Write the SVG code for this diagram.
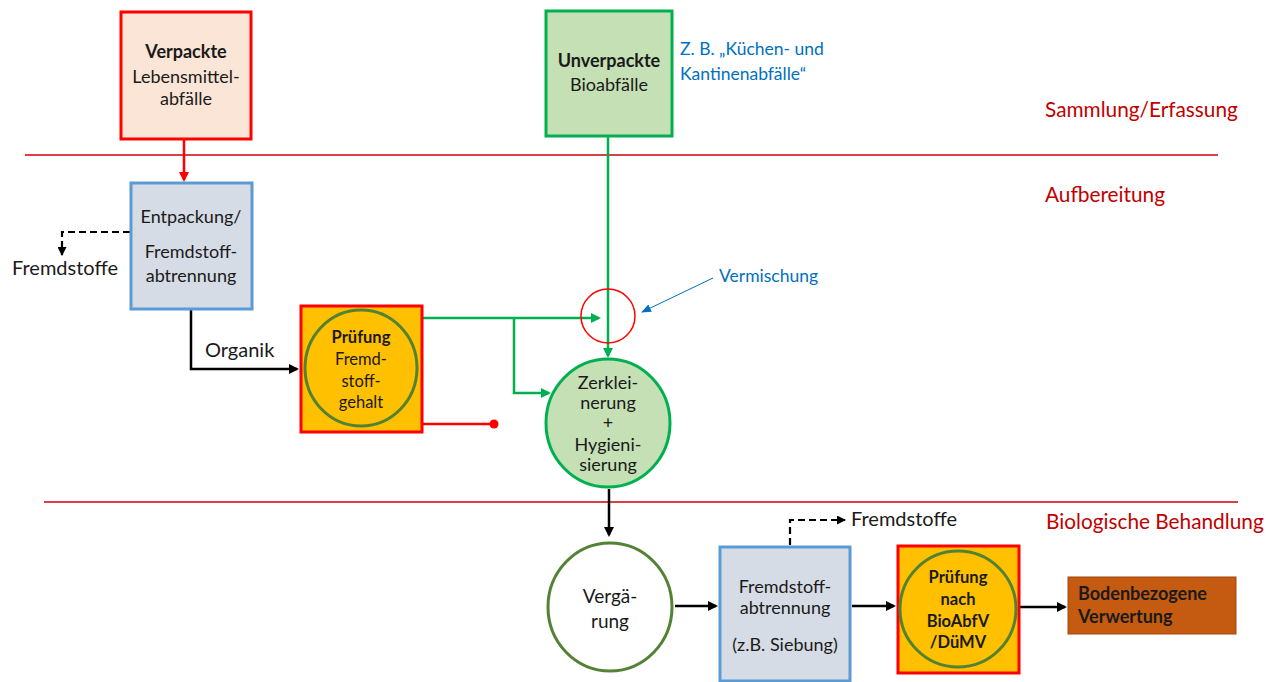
<svg xmlns="http://www.w3.org/2000/svg" width="1275" height="682" viewBox="0 0 1275 682">
<style>
text{font-family:Lato,"Liberation Sans",sans-serif;font-size:18px;fill:#1a1a1a}
.c{text-anchor:middle}
.b{font-weight:bold}
.sm{font-size:16.5px}
.lg{font-size:20px}
.sec{fill:#C00000;font-size:20.8px}
.blue{fill:#0070C0;font-size:17.5px}
.divider{stroke:#D00000;stroke-width:1.6}
.gray{fill:#D6DCE5;stroke:#5B9BD5;stroke-width:3}
.check{fill:#FFC000;stroke:#FF0000;stroke-width:3}
.chkc{fill:none;stroke:#548235;stroke-width:3}
.green{fill:#C5E0B4;stroke:#00B050;stroke-width:3}
.blk{stroke:#000;stroke-width:2.5;fill:none}
.dash{stroke:#000;stroke-width:2.2;fill:none;stroke-dasharray:7 4}
.gl{stroke:#00B050;stroke-width:2.5;fill:none}
</style>
<defs>
<marker id="ab" markerWidth="10" markerHeight="10" refX="8" refY="5" orient="auto" markerUnits="userSpaceOnUse"><path d="M0,0 L10,5 L0,10 z" fill="#000"/></marker>
<marker id="abs" markerWidth="9" markerHeight="9" refX="8" refY="4.5" orient="auto" markerUnits="userSpaceOnUse"><path d="M0,0 L9,4.5 L0,9 z" fill="#000"/></marker>
<marker id="ag" markerWidth="10" markerHeight="10" refX="8" refY="5" orient="auto" markerUnits="userSpaceOnUse"><path d="M0,0 L10,5 L0,10 z" fill="#00B050"/></marker>
<marker id="ar" markerWidth="10" markerHeight="10" refX="8" refY="5" orient="auto" markerUnits="userSpaceOnUse"><path d="M0,0 L10,5 L0,10 z" fill="#FF0000"/></marker>
<marker id="abl" markerWidth="10" markerHeight="8" refX="9" refY="4" orient="auto" markerUnits="userSpaceOnUse"><path d="M0,0 L10,4 L0,8 z" fill="#0070C0"/></marker>
</defs>

<g id="dividers">
<line class="divider" x1="25" y1="155" x2="1218" y2="155"/>
<line class="divider" x1="44" y1="502" x2="1238" y2="502"/>
</g>
<g id="section-labels">
<text class="sec" x="1045" y="117">Sammlung/Erfassung</text>
<text class="sec" x="1045" y="202">Aufbereitung</text>
<text class="sec" x="1046" y="529">Biologische Behandlung</text>
</g>

<g id="connectors">
<line x1="184" y1="140" x2="184" y2="180" stroke="#FF0000" stroke-width="2.5" marker-end="url(#ar)"/>
<line class="gl" x1="608" y1="136" x2="608" y2="356" marker-end="url(#ag)"/>
<polyline class="dash" points="130,232 62,232 62,255" marker-end="url(#abs)"/>
<polyline class="blk" points="191,309 191,369 297,369" marker-end="url(#ab)"/>
<polyline class="gl" points="422,318 599,318" marker-end="url(#ag)"/>
<polyline class="gl" points="514,318 514,393 549,393" marker-end="url(#ag)"/>
<line x1="422" y1="424" x2="494" y2="424" stroke="#FF0000" stroke-width="2.5"/>
<circle cx="494" cy="424" r="4.5" fill="#FF0000"/>
<line x1="713" y1="278" x2="642" y2="312" stroke="#0070C0" stroke-width="1" marker-end="url(#abl)"/>
<line class="blk" x1="609" y1="489" x2="609" y2="535" marker-end="url(#ab)"/>
<line class="blk" x1="675" y1="606" x2="716" y2="606" marker-end="url(#ab)"/>
<polyline class="dash" points="790,545 790,520 845,520" marker-end="url(#abs)"/>
<line class="blk" x1="852" y1="606" x2="894" y2="606" marker-end="url(#ab)"/>
<line class="blk" x1="1020" y1="607" x2="1065" y2="607" marker-end="url(#ab)"/>
</g>

<g id="verpackte">
<rect x="121" y="12" width="130" height="127" fill="#FBE5D6" stroke="#FF0000" stroke-width="3"/>
<text class="c b" x="186" y="58">Verpackte</text>
<text class="c" x="186" y="83">Lebensmittel-</text>
<text class="c" x="186" y="105">abfälle</text>
</g>

<g id="unverpackte">
<rect x="546" y="11" width="126" height="125" class="green"/>
<text class="c b" x="609" y="67">Unverpackte</text>
<text class="c" x="609" y="91">Bioabfälle</text>
</g>
<g id="beispiel">
<text class="blue" x="680" y="55">Z. B. „Küchen- und</text>
<text class="blue" x="680" y="80">Kantinenabfälle“</text>
</g>

<g id="entpackung">
<rect x="131" y="183" width="121" height="126" class="gray"/>
<text class="c" x="191" y="223">Entpackung/</text>
<text class="c" x="191" y="258">Fremdstoff-</text>
<text class="c" x="191" y="282">abtrennung</text>
</g>
<g id="fremdstoffe1"><text class="lg" x="12" y="275">Fremdstoffe</text></g>
<g id="organik"><text class="lg" x="205" y="357">Organik</text></g>

<g id="pruefung1">
<rect x="301" y="306" width="121" height="126" class="check"/>
<ellipse cx="361" cy="368" rx="56" ry="58" class="chkc"/>
<text class="c b sm" x="361" y="343">Prüfung</text>
<text class="c sm" x="361" y="365">Fremd-</text>
<text class="c sm" x="361" y="387">stoff-</text>
<text class="c sm" x="361" y="408">gehalt</text>
</g>

<g id="vermischung">
<circle cx="608" cy="316" r="27" fill="none" stroke="#FF0000" stroke-width="1.5"/>
<text class="blue" x="719" y="282">Vermischung</text>
</g>

<g id="zerkleinerung">
<ellipse cx="608" cy="423" rx="62" ry="64" class="green"/>
<text class="c" x="608" y="389">Zerklei-</text>
<text class="c" x="608" y="409">nerung</text>
<text class="c" x="608" y="429">+</text>
<text class="c" x="608" y="451">Hygieni-</text>
<text class="c" x="608" y="471">sierung</text>
</g>

<g id="vergaerung">
<ellipse cx="610" cy="607" rx="62" ry="64" fill="#FFFFFF" stroke="#548235" stroke-width="3"/>
<text class="c" x="610" y="603" style="font-size:19px">Vergä-</text>
<text class="c" x="610" y="628" style="font-size:19px">rung</text>
</g>

<g id="fremdstoffabtrennung">
<rect x="720" y="547" width="130" height="134" class="gray"/>
<text class="c" x="785" y="593">Fremdstoff-</text>
<text class="c" x="785" y="614">abtrennung</text>
<text class="c" x="785" y="651">(z.B. Siebung)</text>
</g>
<g id="fremdstoffe2"><text class="lg" x="851" y="526">Fremdstoffe</text></g>

<g id="pruefung2">
<rect x="898" y="546" width="121" height="127" class="check"/>
<ellipse cx="958" cy="609" rx="58" ry="58" class="chkc"/>
<text class="c b sm" x="958" y="583">Prüfung</text>
<text class="c b sm" x="958" y="605">nach</text>
<text class="c b sm" x="958" y="627">BioAbfV</text>
<text class="c b sm" x="958" y="648">/DüMV</text>
</g>

<g id="bodenbezogen">
<rect x="1068" y="577" width="168" height="57" fill="#C55A11" stroke="#A04810" stroke-width="1"/>
<text class="b" x="1078" y="600">Bodenbezogene</text>
<text class="b" x="1078" y="623">Verwertung</text>
</g>
</svg>
